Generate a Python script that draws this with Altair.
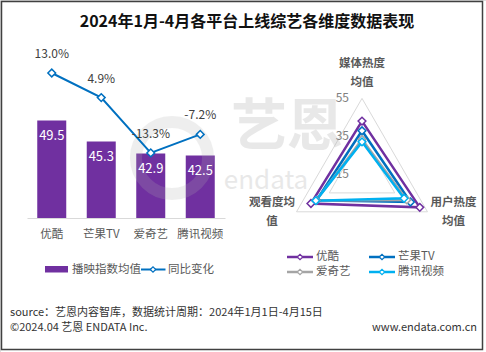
import altair as alt
import pandas as pd

# ---------------- data ----------------
platforms = ["优酷", "芒果TV", "爱奇艺", "腾讯视频"]
play_index = [49.5, 45.3, 42.9, 42.5]
yoy_change = [13.0, 4.9, -13.3, -7.2]

dimension_labels = ["媒体热度\n均值", "用户热度\n均值", "观看度均\n值"]
media_heat = [43.0, 37.9, 33.3, 32.0]
user_heat = [50.3, 44.6, 42.4, 40.7]
view_heat = [46.2, 42.8, 42.9, 43.2]
radar_ticks = [15, 35, 55]

bar_legend = ["播映指数均值", "同比变化"]
title_text = "2024年1月-4月各平台上线综艺各维度数据表现"
source_text = "source：艺恩内容智库，数据统计周期：2024年1月1日-4月15日"
copyright_text = "©2024.04 艺恩 ENDATA Inc."
site_text = "www.endata.com.cn"
watermark_cn = "艺恩"
watermark_en = "endata"

# ---------------- styles ----------------
FONT = "Noto Sans CJK SC"
PURPLE = "#7030A0"
BLUE = "#0070C0"
platform_colors = ["#7030A0", "#0070C0", "#A5A5A5", "#00B0F0"]
W, H = 486, 352

def one(**kw):
    return pd.DataFrame({k: [v] for k, v in kw.items()})

# ---------------- bar + line panel ----------------
bar_df = pd.DataFrame({"platform": platforms, "play": play_index, "yoy": yoy_change})
bar_df["yoy_label"] = [f"{v:.1f}%" for v in yoy_change]

band = alt.Scale(type="band", domain=platforms, range=[27, 225],
                 paddingInner=0.414, paddingOuter=0.207)
x_plain = alt.X("platform:N", sort=platforms, scale=band, axis=None)
x_axis = alt.X("platform:N", sort=platforms, scale=band, title=None,
               axis=alt.Axis(orient="bottom", offset=-(H - 218), ticks=False,
                             domainColor="#d9d9d9", domainWidth=1, labelFont=FONT,
                             labelFontSize=11.5, labelColor="#595959", labelPadding=10,
                             labelAngle=0, grid=False))
y_play = alt.Y("play:Q", scale=alt.Scale(domain=[30, 50], range=[218, 118], zero=False, nice=False), axis=None)
y_yoy = alt.Y("yoy:Q", scale=alt.Scale(domain=[-15, 15], range=[158.1, 66.9], zero=False, nice=False), axis=None)

bars = alt.Chart(bar_df).mark_bar(color=PURPLE).encode(x=x_axis, y=y_play, y2=alt.datum(30))
bar_labels = alt.Chart(bar_df).mark_text(color="white", fontSize=13, dy=15, font=FONT).encode(
    x=x_plain, y=y_play, text=alt.Text("play:Q", format=".1f"))
yoy_line = alt.Chart(bar_df).mark_line(color=BLUE, strokeWidth=2).encode(x=x_plain, y=y_yoy)
yoy_pts = alt.Chart(bar_df).mark_point(shape="diamond", filled=True, fill="white", stroke=BLUE,
                                       strokeWidth=1.5, size=60, opacity=1).encode(x=x_plain, y=y_yoy)
yoy_labels = alt.Chart(bar_df).mark_text(fontSize=12, dy=-19, color="#404040", font=FONT).encode(
    x=x_plain, y=y_yoy, text="yoy_label:N")

# ---------------- radar panel ----------------
rows = []
for i, p in enumerate(platforms):
    vals = [media_heat[i], user_heat[i], view_heat[i]]
    for j in range(4):
        rows.append({"platform": p, "dim": j % 3, "value": vals[j % 3], "order": j})
radar_df = pd.DataFrame(rows)

grid_rows = []
for t in radar_ticks[1:]:
    for j in range(4):
        grid_rows.append({"tick": t, "dim": j % 3, "value": t, "order": j})
grid_df = pd.DataFrame(grid_rows)

R0, R1 = radar_ticks[0], radar_ticks[-1]
RR = R1 - R0
CX, CY, RP = 362, 174, 75.6
rx_scale = alt.Scale(domain=[-RR, RR], range=[CX - RP, CX + RP], zero=False, nice=False)
ry_scale = alt.Scale(domain=[-RR, RR], range=[CY + RP, CY - RP], zero=False, nice=False)
rx = alt.X("rx:Q", scale=rx_scale, axis=None)
ry = alt.Y("ry:Q", scale=ry_scale, axis=None)

def polar(ch):
    return ch.transform_calculate(
        ang="datum.dim * 2 * PI / 3",
        r=f"datum.value - {R0}",
        rx="datum.r * sin(datum.ang)",
        ry="datum.r * cos(datum.ang)",
    )

pcolor = alt.Scale(domain=platforms, range=platform_colors)

grid = polar(alt.Chart(grid_df)).mark_line(color="#d9d9d9", strokeWidth=1).encode(
    x=rx, y=ry, detail="tick:N", order="order:Q")
tick_df = pd.DataFrame({"value": radar_ticks, "dim": [0] * len(radar_ticks)})
tick_labels = polar(alt.Chart(tick_df)).mark_text(
    align="right", dx=-13, fontSize=12, color="#808080", font=FONT
).encode(x=rx, y=ry, text="value:N")

radar_lines = polar(alt.Chart(radar_df)).mark_line(strokeWidth=2.5).encode(
    x=rx, y=ry, color=alt.Color("platform:N", scale=pcolor, legend=None),
    detail="platform:N", order="order:Q")
radar_pts = polar(alt.Chart(radar_df)).transform_filter("datum.order < 3").mark_point(
    shape="diamond", filled=True, fill="white", strokeWidth=1.5, size=60, opacity=1
).encode(x=rx, y=ry, stroke=alt.Stroke("platform:N", scale=pcolor, legend=None))

dim_df = pd.DataFrame({"label": dimension_labels, "dim": [0, 1, 2], "value": [R1] * 3})
dim_offsets = [(0, -40), (26, -15), (-24.5, -15)]
dim_texts = []
for k, (ddx, ddy) in enumerate(dim_offsets):
    dim_texts.append(
        polar(alt.Chart(dim_df)).transform_filter(f"datum.dim == {k}").mark_text(
            align="center", baseline="top", dx=ddx, dy=ddy, lineBreak="\n", lineHeight=19,
            fontSize=11.5, fontWeight="bold", color="#595959", font=FONT
        ).encode(x=rx, y=ry, text="label:N")
    )

# ---------------- legends ----------------
leg_df = pd.DataFrame({"platform": platforms,
                       "col": [i % 2 for i in range(len(platforms))],
                       "row": [i // 2 for i in range(len(platforms))]})
lx = alt.Scale(domain=[0, 1], range=[287, 369], zero=False, nice=False)
ly = alt.Scale(domain=[0, 1], range=[257, 272], zero=False, nice=False)
leg_base = alt.Chart(leg_df).transform_calculate(
    c_end="datum.col + 26/82", c_mid="datum.col + 13/82", c_txt="datum.col + 29/82")
leg_rule = leg_base.mark_rule(strokeWidth=2.5).encode(
    x=alt.X("col:Q", scale=lx, axis=None), x2="c_end:Q",
    y=alt.Y("row:Q", scale=ly, axis=None),
    color=alt.Color("platform:N", scale=pcolor, legend=None))
leg_pt = leg_base.mark_point(shape="diamond", filled=True, fill="white", strokeWidth=1.2, size=30, opacity=1).encode(
    x=alt.X("c_mid:Q", scale=lx, axis=None), y=alt.Y("row:Q", scale=ly, axis=None),
    stroke=alt.Stroke("platform:N", scale=pcolor, legend=None))
leg_txt = leg_base.mark_text(align="left", baseline="middle", fontSize=11.5, color="#595959", font=FONT).encode(
    x=alt.X("c_txt:Q", scale=lx, axis=None), y=alt.Y("row:Q", scale=ly, axis=None), text="platform:N")

bl0 = alt.Chart(one(t=bar_legend[0]))
bl1 = alt.Chart(one(t=bar_legend[1]))
bar_leg = [
    bl0.mark_rect(color=PURPLE).encode(x=alt.value(45), x2=alt.value(68), y=alt.value(266), y2=alt.value(272.5)),
    bl0.mark_text(align="left", baseline="middle", fontSize=11.5, color="#595959", font=FONT).encode(
        x=alt.value(72), y=alt.value(269.5), text="t:N"),
    bl1.mark_rule(color=BLUE, strokeWidth=2).encode(x=alt.value(141), x2=alt.value(165.5), y=alt.value(269.5)),
    bl1.mark_point(shape="diamond", filled=True, fill="white", stroke=BLUE, strokeWidth=1.2, size=30, opacity=1).encode(
        x=alt.value(153), y=alt.value(269.5)),
    bl1.mark_text(align="left", baseline="middle", fontSize=11.5, color="#595959", font=FONT).encode(
        x=alt.value(168), y=alt.value(269.5), text="t:N"),
]

# ---------------- decorations ----------------
border = alt.Chart(one(a=0)).mark_rect(fillOpacity=0, stroke="#404040", strokeWidth=1.5).encode(
    x=alt.value(1.5), x2=alt.value(482.5), y=alt.value(1.5), y2=alt.value(349.5))
title = alt.Chart(one(t=title_text)).mark_text(
    fontSize=16, fontWeight="bold", color="#111111", font=FONT, align="center", baseline="middle"
).encode(x=alt.value(247), y=alt.value(22), text="t:N")
wm_cn = alt.Chart(one(t=watermark_cn)).mark_text(
    fontSize=56, fontWeight="bold", color="#b0b0b0", opacity=0.28, font=FONT, align="center", baseline="middle"
).encode(x=alt.value(287), y=alt.value(128), text="t:N")
wm_en = alt.Chart(one(t=watermark_en)).mark_text(
    fontSize=26, color="#b0b0b0", opacity=0.28, font=FONT, align="center", baseline="middle"
).encode(x=alt.value(266), y=alt.value(181), text="t:N")
wm_ring = alt.Chart(one(a=0)).mark_point(shape="circle", size=5200, strokeWidth=12, color="#b0b0b0",
                                         opacity=0.2).encode(x=alt.value(172), y=alt.value(158))
src = alt.Chart(one(t=source_text)).mark_text(
    align="left", baseline="middle", fontSize=11, color="#333333", font=FONT
).encode(x=alt.value(10), y=alt.value(313), text="t:N")
cpy = alt.Chart(one(t=copyright_text)).mark_text(
    align="left", baseline="middle", fontSize=11, color="#333333", font=FONT
).encode(x=alt.value(10), y=alt.value(328), text="t:N")
site = alt.Chart(one(t=site_text)).mark_text(
    align="right", baseline="middle", fontSize=11, color="#333333", font=FONT
).encode(x=alt.value(477), y=alt.value(328), text="t:N")

layers = [border, title, grid, bars, wm_ring, wm_cn, wm_en, bar_labels, yoy_line, yoy_pts, yoy_labels,
          tick_labels, radar_lines, radar_pts] + dim_texts + [leg_rule, leg_pt, leg_txt] + bar_leg + [src, cpy, site]

chart = alt.layer(*layers).resolve_scale(
    x="independent", y="independent", color="independent", stroke="independent"
).properties(
    width=W, height=H, padding=0, autosize=alt.AutoSizeParams(type="none")
).configure_view(stroke=None).configure(background="white")

chart.save("out.html", embed_options={"renderer": "svg", "actions": False})
